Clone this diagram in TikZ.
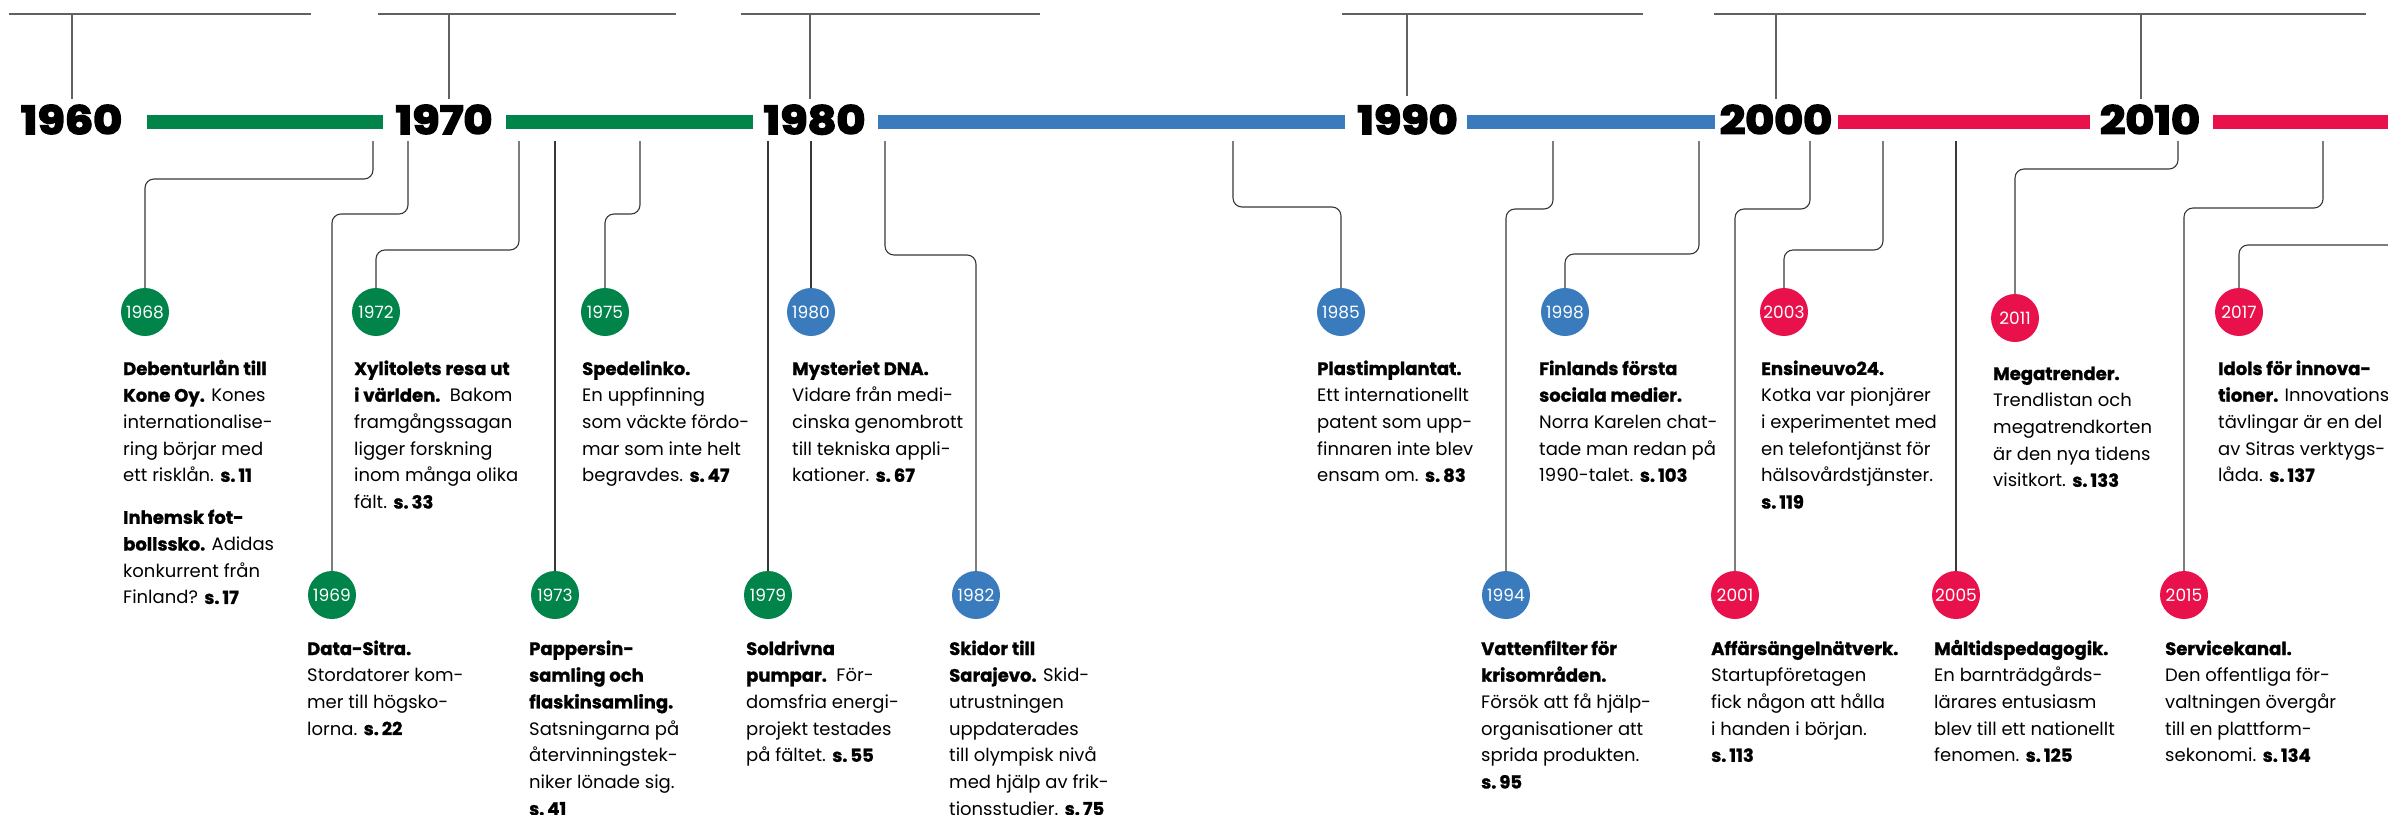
\documentclass[tikz,border=0pt]{standalone}
\usepackage{fontspec}
\setmainfont{Poppins}[BoldFeatures={FakeBold=1.2}]
\newfontfamily\yearfont{Poppins}[FakeBold=4]
\definecolor{sgreen}{RGB}{0,132,74}
\definecolor{sblue}{RGB}{57,123,189}
\definecolor{sred}{RGB}{233,17,76}
\definecolor{lineg}{RGB}{55,55,55}
\newcommand\spg[1]{\textbf{s.\,#1}}
\tikzset{
  conn/.style={draw=lineg, line width=1.1pt, rounded corners=9pt},
  topl/.style={draw=black!62, line width=1.4pt},
  yr/.style={font=\yearfont\bfseries\fontsize{39}{39}\selectfont, inner sep=0, anchor=base, xscale=1.14},
  dot/.style={circle, minimum size=48pt, inner sep=0, text=white, font=\fontsize{17}{17}\selectfont},
  gdot/.style={dot, fill=sgreen},
  bdot/.style={dot, fill=sblue},
  rdot/.style={dot, fill=sred},
  tb/.style={anchor=base west, inner sep=0, font=\fontsize{18}{26.7}\selectfont},
}
\begin{document}
\begin{tikzpicture}[x=1pt,y=-1pt]
\useasboundingbox (0,0) rectangle (2388,814);
\clip (0,0) rectangle (2388,814);
% top lines
\draw[topl] (9,14) -- (311,14);
\draw[topl] (378,14) -- (676,14);
\draw[topl] (741,14) -- (1040,14);
\draw[topl] (1342,14) -- (1643,14);
\draw[topl] (1714,14) -- (2366,14);
% year labels
\node[yr] (y60) at (71.5,134) {1960};
\node[yr] (y70) at (444,134) {1970};
\node[yr] (y80) at (814.5,134) {1980};
\node[yr] (y90) at (1407.5,134) {1990};
\node[yr] (y00) at (1776,134) {2000};
\node[yr] (y10) at (2150,134) {2010};
% ticks
\coordinate (k60) at (72,14);
\coordinate (k70) at (449,14);
\coordinate (k80) at (810,14);
\coordinate (k90) at (1407,14);
\coordinate (k00) at (1776,14);
\coordinate (k10) at (2141,14);
\draw[topl] (k60) -- ++(0,85);
\draw[topl] (k70) -- ++(0,85);
\draw[topl] (k80) -- ++(0,85);
\draw[topl] (k90) -- ++(0,82);
\draw[topl] (k00) -- ++(0,85);
\draw[topl] (k10) -- ++(0,85);
% bars
\fill[sgreen] (147,115) rectangle (383,129);
\fill[sgreen] (506,115) rectangle (753,129);
\fill[sblue] (878,115) rectangle (1345,129);
\fill[sblue] (1467,115) rectangle (1715,129);
\fill[sred] (1838,115) rectangle (2090,129);
\fill[sred] (2213,115) rectangle (2388,129);
% circles
\node[gdot] (c68) at (145,312) {1968};
\node[gdot] (c69) at (332,595) {1969};
\node[gdot] (c72) at (376,312) {1972};
\node[gdot] (c73) at (555,595) {1973};
\node[gdot] (c75) at (605,312) {1975};
\node[gdot] (c79) at (768,595) {1979};
\node[bdot] (c80) at (811,312) {1980};
\node[bdot] (c82) at (976,595) {1982};
\node[bdot] (c85) at (1341,312) {1985};
\node[bdot] (c94) at (1506,595) {1994};
\node[bdot] (c98) at (1565,312) {1998};
\node[rdot] (c01) at (1735,595) {2001};
\node[rdot] (c03) at (1784,312) {2003};
\node[rdot] (c05) at (1956,595) {2005};
\node[rdot] (c11) at (2015,318) {2011};
\node[rdot] (c15) at (2184,595) {2015};
\node[rdot] (c17) at (2239,312) {2017};
% connector starts
\coordinate (s68) at (373,141);
\coordinate (s69) at (408,141);
\coordinate (s72) at (519,141);
\coordinate (s73) at (555,141);
\coordinate (s75) at (640,141);
\coordinate (s79) at (768,141);
\coordinate (s80) at (811,141);
\coordinate (s82) at (885,141);
\coordinate (s85) at (1233,141);
\coordinate (s94) at (1553,141);
\coordinate (s98) at (1699,141);
\coordinate (s01) at (1810,141);
\coordinate (s03) at (1883,141);
\coordinate (s05) at (1956,141);
\coordinate (s11) at (2178,141);
\coordinate (s15) at (2323,141);
\coordinate (s17) at (2390,245);
% connectors
\draw[conn] (s68) -- ++(0,38) -| (c68.north);
\draw[conn] (s69) -- ++(0,73) -| (c69.north);
\draw[conn] (s72) -- ++(0,109) -| (c72.north);
\draw[conn] (s73) -- (c73.north);
\draw[conn] (s75) -- ++(0,73) -| (c75.north);
\draw[conn] (s79) -- (c79.north);
\draw[conn] (s80) -- (c80.north);
\draw[conn] (s82) -- ++(0,114) -| (c82.north);
\draw[conn] (s85) -- ++(0,66) -| (c85.north);
\draw[conn] (s94) -- ++(0,68) -| (c94.north);
\draw[conn] (s98) -- ++(0,113) -| (c98.north);
\draw[conn] (s01) -- ++(0,68) -| (c01.north);
\draw[conn] (s03) -- ++(0,109) -| (c03.north);
\draw[conn] (s05) -- (c05.north);
\draw[conn] (s11) -- ++(0,28) -| (c11.north);
\draw[conn] (s15) -- ++(0,67) -| (c15.north);
\draw[conn] (s17) -| (c17.north);
% text blocks upper
\node[tb] (t68) at (123,375) {\parbox[t]{260pt}{\raggedright
\textbf{Debenturlån till}\\
\textbf{Kone Oy.} Kones\\
internationalise-\\
ring börjar med\\
ett risklån. \spg{11}\\[15.3pt]
\textbf{Inhemsk fot-}\\
\textbf{bollssko.} Adidas\\
konkurrent från\\
Finland? \spg{17}}};
\node[tb] (t72) at (354,375) {\parbox[t]{260pt}{\raggedright
\textbf{Xylitolets resa ut}\\
\textbf{i världen.}\ \ Bakom\\
framgångssagan\\
ligger forskning\\
inom många olika\\
fält. \spg{33}}};
\node[tb] (t75) at (582,375) {\parbox[t]{260pt}{\raggedright
\textbf{Spedelinko.}\\
En uppfinning\\
som väckte fördo-\\
mar som inte helt\\
begravdes. \spg{47}}};
\node[tb] (t80) at (792,375) {\parbox[t]{260pt}{\raggedright
\textbf{Mysteriet DNA.}\\
Vidare från medi-\\
cinska genombrott\\
till tekniska appli-\\
kationer. \spg{67}}};
\node[tb] (t85) at (1317,375) {\parbox[t]{260pt}{\raggedright
\textbf{Plastimplantat.}\\
Ett internationellt\\
patent som upp-\\
finnaren inte blev\\
ensam om. \spg{83}}};
\node[tb] (t98) at (1539,375) {\parbox[t]{260pt}{\raggedright
\textbf{Finlands första}\\
\textbf{sociala medier.}\\
Norra Karelen chat-\\
tade man redan på\\
1990-talet. \spg{103}}};
\node[tb] (t03) at (1761,375) {\parbox[t]{260pt}{\raggedright
\textbf{Ensineuvo24.}\\
Kotka var pionjärer\\
i experimentet med\\
en telefontjänst för\\
hälsovårdstjänster.\\
\spg{119}}};
\node[tb] (t11) at (1993,380) {\parbox[t]{260pt}{\raggedright
\textbf{Megatrender.}\\
Trendlistan och\\
megatrendkorten\\
är den nya tidens\\
visitkort. \spg{133}}};
\node[tb] (t17) at (2218,375) {\parbox[t]{260pt}{\raggedright
\textbf{Idols för innova-}\\
\textbf{tioner.} Innovations-\\
tävlingar är en del\\
av Sitras verktygs-\\
låda. \spg{137}}};
% text blocks lower
\node[tb] (t69) at (307,655) {\parbox[t]{260pt}{\raggedright
\textbf{Data-Sitra.}\\
Stordatorer kom-\\
mer till högsko-\\
lorna. \spg{22}}};
\node[tb] (t73) at (529,655) {\parbox[t]{260pt}{\raggedright
\textbf{Pappersin-}\\
\textbf{samling och}\\
\textbf{flaskinsamling.}\\
Satsningarna på\\
återvinningstek-\\
niker lönade sig.\\
\spg{41}}};
\node[tb] (t79) at (746,655) {\parbox[t]{260pt}{\raggedright
\textbf{Soldrivna}\\
\textbf{pumpar.}\ \ För-\\
domsfria energi-\\
projekt testades\\
på fältet. \spg{55}}};
\node[tb] (t82) at (949,655) {\parbox[t]{260pt}{\raggedright
\textbf{Skidor till}\\
\textbf{Sarajevo.} Skid-\\
utrustningen\\
uppdaterades\\
till olympisk nivå\\
med hjälp av frik-\\
tionsstudier. \spg{75}}};
\node[tb] (t94) at (1481,655) {\parbox[t]{260pt}{\raggedright
\textbf{Vattenfilter för}\\
\textbf{krisområden.}\\
Försök att få hjälp-\\
organisationer att\\
sprida produkten.\\
\spg{95}}};
\node[tb] (t01) at (1711,655) {\parbox[t]{260pt}{\raggedright
\textbf{Affärsängelnätverk.}\\
Startupföretagen\\
fick någon att hålla\\
i handen i början.\\
\spg{113}}};
\node[tb] (t05) at (1934,655) {\parbox[t]{260pt}{\raggedright
\textbf{Måltidspedagogik.}\\
En barnträdgårds-\\
lärares entusiasm\\
blev till ett nationellt\\
fenomen. \spg{125}}};
\node[tb] (t15) at (2165,655) {\parbox[t]{260pt}{\raggedright
\textbf{Servicekanal.}\\
Den offentliga för-\\
valtningen övergår\\
till en plattform-\\
sekonomi. \spg{134}}};
\end{tikzpicture}
\end{document}
